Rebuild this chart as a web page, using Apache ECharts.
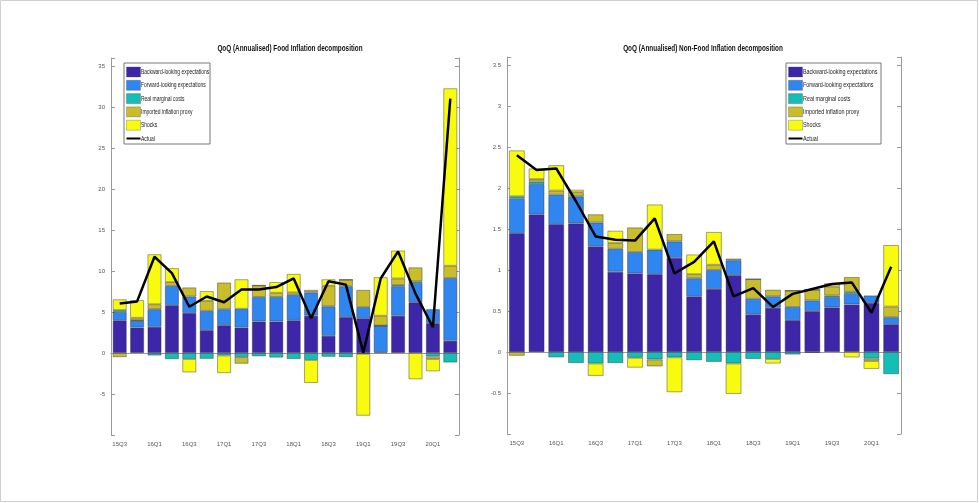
<!DOCTYPE html>
<html>
<head>
<meta charset="utf-8">
<script src="https://cdn.jsdelivr.net/npm/echarts@6/dist/echarts.min.js"></script>
<style>
  html, body { margin: 0; padding: 0; background: #fff; }
  #chart { width: 979px; height: 503px; }
</style>
</head>
<body>
<div id="chart"></div>
<script>
// Quarters shown on both panels
const quarters = ['15Q3','15Q4','16Q1','16Q2','16Q3','16Q4','17Q1','17Q2','17Q3','17Q4',
                  '18Q1','18Q2','18Q3','18Q4','19Q1','19Q2','19Q3','19Q4','20Q1','20Q2'];

const seriesNames = ['Backward-looking expectations','Forward-looking expectations',
                     'Real marginal costs','Imported inflation proxy','Shocks','Actual'];

const panelTitles = ['QoQ (Annualised) Food Inflation decomposition',
                     'QoQ (Annualised) Non-Food Inflation decomposition'];

// Food inflation contributions (pp)
const foodBackward = [4.0, 3.1, 3.2, 5.85, 4.9, 2.8, 3.4, 3.1, 3.85, 3.85, 4.0, 4.55, 2.1, 4.4, 4.25, 0.1, 4.55, 6.2, 3.65, 1.5];
const foodForward  = [1.0, 0.85, 2.15, 2.35, 2.0, 2.35, 1.95, 2.3, 3.0, 3.0, 3.1, 2.85, 3.6, 3.75, 1.35, 3.25, 3.6, 2.35, 1.7, 7.65];
const foodRmc      = [0.25, 0.05, -0.3, -0.75, -0.73, -0.7, -0.3, -0.5, -0.4, -0.55, -0.73, -0.85, -0.45, -0.5, -0.1, 0, 0.15, 0.2, -0.4, -1.15];
const foodImported = [-0.5, 0.3, 0.6, 0.45, 1.1, 1.2, 3.25, -0.8, 1.4, 0.5, 0.3, 0.3, 2.5, 0.8, 2.1, 1.2, 0.8, 1.7, -0.33, 1.5];
const foodShocks   = [1.3, 2.15, 6.1, 1.7, -1.63, 1.2, -2.14, 3.6, 0, 1.3, 2.25, -2.8, 0.8, 0, -7.54, 4.7, 3.4, -3.2, -1.5, 21.65];
const foodActual   = [6.05, 6.3, 11.75, 9.75, 5.65, 6.9, 6.2, 7.75, 7.75, 8.05, 9.1, 4.25, 8.75, 8.35, 0.05, 9.1, 12.4, 7.25, 3.15, 31.05];

// Non-food inflation contributions (pp)
const nfBackward = [1.45, 1.68, 1.56, 1.57, 1.29, 0.98, 0.96, 0.95, 1.15, 0.68, 0.77, 0.94, 0.46, 0.54, 0.39, 0.5, 0.545, 0.58, 0.6, 0.34];
const nfForward  = [0.42, 0.37, 0.36, 0.33, 0.29, 0.28, 0.26, 0.3, 0.2, 0.22, 0.23, 0.18, 0.19, 0.14, 0.16, 0.13, 0.125, 0.13, 0.09, 0.085];
const nfRmc      = [0.03, 0.03, -0.065, -0.135, -0.14, -0.135, -0.07, -0.09, -0.065, -0.1, -0.12, -0.14, -0.085, -0.085, -0.03, -0.01, 0.02, 0.025, -0.08, -0.27];
const nfImported = [-0.045, 0.03, 0.05, 0.05, 0.1, 0.07, 0.3, -0.085, 0.09, 0.05, 0.065, 0.02, 0.24, 0.08, 0.2, 0.13, 0.11, 0.18, -0.03, 0.13];
const nfShocks   = [0.56, 0.13, 0.31, 0.03, -0.15, 0.15, -0.12, 0.55, -0.425, 0.24, 0.4, -0.37, 0, -0.055, 0, 0, 0.04, -0.065, -0.095, 0.75];
const nfActual   = [2.4, 2.22, 2.24, 1.84, 1.41, 1.37, 1.36, 1.63, 0.96, 1.1, 1.35, 0.68, 0.78, 0.55, 0.71, 0.77, 0.83, 0.85, 0.48, 1.04];

const colors = ['#3e26a8', '#2f86f0', '#14bdb5', '#c9bd2c', '#f9fb0e'];
const FONT = "'Liberation Sans', Arial, sans-serif";
const AXIS_COLOR = '#9a9a9a';

const chart = echarts.init(document.getElementById('chart'), null, { renderer: 'canvas' });

function barSeries(name, data, idx, color) {
  return {
    name, type: 'bar', data, stack: 'decomp' + idx, stackStrategy: 'samesign',
    xAxisIndex: idx * 2, yAxisIndex: idx * 2,
    barCategoryGap: '20%',
    itemStyle: { color, borderColor: 'rgba(50,50,50,0.55)', borderWidth: 0.8 },
    emphasis: { disabled: true }
  };
}
function lineSeries(data, idx) {
  return {
    name: 'Actual', type: 'line', data, symbol: 'none',
    xAxisIndex: idx * 2, yAxisIndex: idx * 2, z: 5,
    lineStyle: { color: '#000', width: 2.5 }, itemStyle: { color: '#000' }
  };
}

function xAxes(gridIndex) {
  return [
    { type: 'category', gridIndex, data: quarters, position: 'bottom',
      axisLine: { lineStyle: { color: AXIS_COLOR } },
      axisTick: { inside: true, alignWithLabel: true, interval: 1, length: 4, lineStyle: { color: AXIS_COLOR } },
      axisLabel: { interval: 1, fontSize: 6, color: '#555', fontFamily: FONT, margin: 6 } },
    { type: 'category', gridIndex, data: quarters, position: 'top',
      axisLine: { lineStyle: { color: AXIS_COLOR } },
      axisTick: { inside: true, alignWithLabel: true, interval: 1, length: 4, lineStyle: { color: AXIS_COLOR } },
      axisLabel: { show: false } }
  ];
}
function yAxes(gridIndex, min, max, interval) {
  const label = v => (Math.abs(v - min) < 1e-9 || Math.abs(v - max) < 1e-9) ? '' : String(v);
  return [
    { type: 'value', gridIndex, min, max, interval, position: 'left',
      splitLine: { show: false },
      axisLine: { show: true, lineStyle: { color: AXIS_COLOR } },
      axisTick: { show: true, inside: true, length: 4, lineStyle: { color: AXIS_COLOR } },
      axisLabel: { fontSize: 6, color: '#555', fontFamily: FONT, margin: 6, formatter: label } },
    { type: 'value', gridIndex, min, max, interval, position: 'right',
      splitLine: { show: false },
      axisLine: { show: true, lineStyle: { color: AXIS_COLOR } },
      axisTick: { show: true, inside: true, length: 4, lineStyle: { color: AXIS_COLOR } },
      axisLabel: { show: false } }
  ];
}

// Condensed legend box: swatches for the stacked parts, a short black line for "Actual"
function legendBox(x, y, w, h, textScale) {
  const children = [
    { type: 'rect', shape: { x: 0, y: 0, width: w, height: h },
      style: { fill: '#fff', stroke: '#777', lineWidth: 1 } }
  ];
  seriesNames.forEach((name, i) => {
    const cy = 9 + i * 13.3;
    if (i < colors.length) {
      children.push({ type: 'rect', shape: { x: 2.5, y: cy - 5, width: 14, height: 10 },
        style: { fill: colors[i], stroke: 'rgba(60,60,60,0.5)', lineWidth: 0.6 } });
    } else {
      children.push({ type: 'line', shape: { x1: 2.5, y1: cy, x2: 16.5, y2: cy },
        style: { stroke: '#000', lineWidth: 2 } });
    }
    children.push({ type: 'text', x: 17, y: cy, scaleX: textScale,
      style: { text: name, fontSize: 7.5, fontFamily: FONT, fill: '#222',
               textAlign: 'left', textVerticalAlign: 'middle' } });
  });
  return { type: 'group', x, y, children, z: 100, silent: true };
}
function titleText(text, cx) {
  return { type: 'text', x: cx, y: 49, scaleX: 0.75, z: 100, silent: true,
    style: { text, fontSize: 8.5, fontWeight: 'bold', fontFamily: FONT, fill: '#111',
             textAlign: 'center', textVerticalAlign: 'middle' } };
}

const option = {
  animation: false,
  backgroundColor: '#fff',
  color: colors,
  grid: [
    { left: 111, right: 520, top: 58, bottom: 68 },
    { left: 507, right: 78, top: 57, bottom: 69 }
  ],
  xAxis: [...xAxes(0), ...xAxes(1)],
  yAxis: [...yAxes(0, -10, 36, 5), ...yAxes(1, -1, 3.6, 0.5)],
  series: [
    barSeries(seriesNames[0], foodBackward, 0, colors[0]),
    barSeries(seriesNames[1], foodForward, 0, colors[1]),
    barSeries(seriesNames[2], foodRmc, 0, colors[2]),
    barSeries(seriesNames[3], foodImported, 0, colors[3]),
    barSeries(seriesNames[4], foodShocks, 0, colors[4]),
    lineSeries(foodActual, 0),
    barSeries(seriesNames[0], nfBackward, 1, colors[0]),
    barSeries(seriesNames[1], nfForward, 1, colors[1]),
    barSeries(seriesNames[2], nfRmc, 1, colors[2]),
    barSeries(seriesNames[3], nfImported, 1, colors[3]),
    barSeries(seriesNames[4], nfShocks, 1, colors[4]),
    lineSeries(nfActual, 1)
  ],
  graphic: [
    { type: 'rect', shape: { x: 0.5, y: 0.5, width: 977, height: 501 },
      style: { fill: 'none', stroke: '#cfcfcf', lineWidth: 1 }, silent: true },
    titleText(panelTitles[0], 290),
    titleText(panelTitles[1], 703),
    legendBox(124, 63, 86, 81, 0.66),
    legendBox(786, 63, 95, 81, 0.72)
  ]
};

chart.setOption(option);
</script>
</body>
</html>
